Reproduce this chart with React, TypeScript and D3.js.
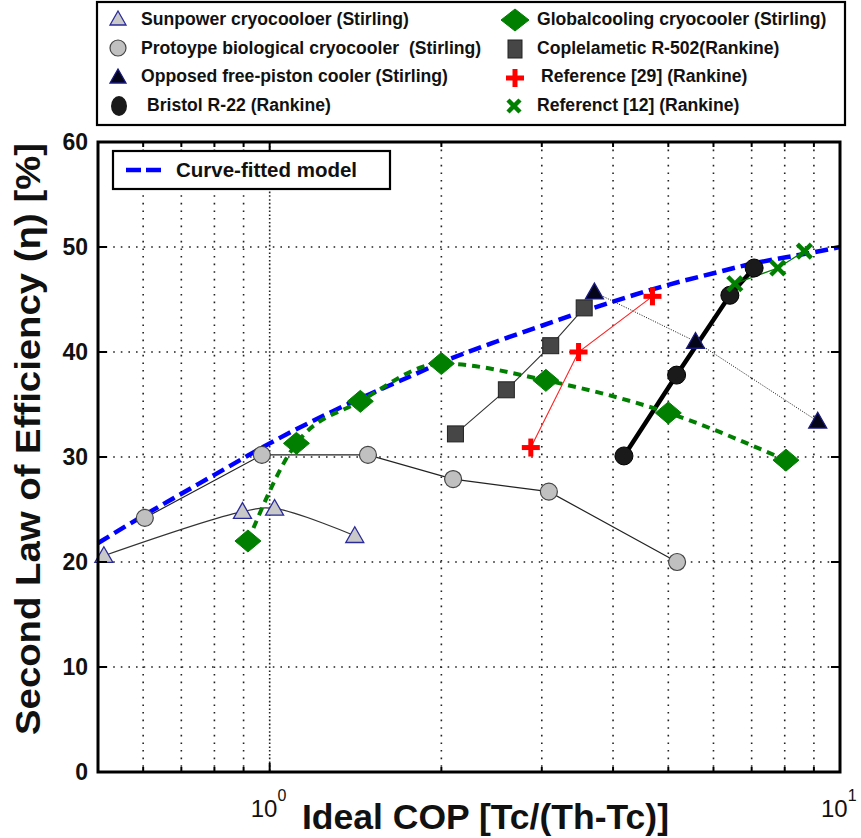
import React from "react";
import * as d3 from "d3";

// ---- Data ----
const sunpowerX = [0.512, 0.896, 1.02, 1.41];
const sunpowerY = [20.6, 24.8, 25.1, 22.5];

const protoX = [0.604, 0.969, 1.487, 2.097, 3.087, 5.18];
const protoY = [24.2, 30.2, 30.2, 27.9, 26.7, 20.0];

const opposedX = [3.71, 5.58, 9.14];
const opposedY = [45.7, 41.0, 33.4];

const bristolX = [4.18, 5.17, 6.41, 7.07];
const bristolY = [30.1, 37.8, 45.4, 48.0];

const globalX = [0.916, 1.114, 1.442, 2.0, 3.05, 5.0, 8.04];
const globalY = [22.0, 31.3, 35.3, 38.9, 37.3, 34.2, 29.7];

const coplX = [2.117, 2.6, 3.11, 3.56];
const coplY = [32.2, 36.4, 40.6, 44.2];

const ref29X = [2.87, 3.48, 4.69];
const ref29Y = [30.9, 40.0, 45.3];

const ref12X = [6.54, 7.78, 8.66];
const ref12Y = [46.5, 48.0, 49.6];

const modelX = [0.5, 0.6, 0.7, 0.8, 0.9, 1.0, 1.25, 1.5, 1.75, 2.0, 2.5, 3.0, 4.0, 5.0, 6.0, 7.0, 8.0, 9.0, 10.0];
const modelY = [21.8, 24.4, 26.5, 28.3, 29.9, 31.3, 34.0, 36.0, 37.6, 39.0, 41.0, 42.5, 44.8, 46.4, 47.5, 48.4, 49.0, 49.5, 50.0];

const yTicks = [0, 10, 20, 30, 40, 50, 60];
const xMinor = [0.6, 0.7, 0.8, 0.9, 2, 3, 4, 5, 6, 7, 8, 9];
const xMajor = [1, 10];

const legendLeft = [
  "Sunpower cryocooloer (Stirling)",
  "Protoype biological cryocooler \u00a0(Stirling)",
  "Opposed free-piston cooler (Stirling)",
  "Bristol R-22 (Rankine)",
];
const legendRight = [
  "Globalcooling cryocooler (Stirling)",
  "Coplelametic R-502(Rankine)",
  "Reference [29] (Rankine)",
  "Referenct [12] (Rankine)",
];

const W = 861;
const H = 838;
const L = 98, R = 840, T = 142, B = 772;

const GREEN = "#007f00";
const FONT = "'Liberation Sans', Arial, Helvetica, sans-serif";

const zip = (xs: number[], ys: number[]) => xs.map((x, i) => [x, ys[i]] as [number, number]);

function Tri({ cx, cy, fill, stroke, s = 9 }: any) {
  const h = s * 1.0;
  return (
    <path
      d={`M${cx},${cy - h} L${cx + s},${cy + h * 0.75} L${cx - s},${cy + h * 0.75} Z`}
      fill={fill}
      stroke={stroke}
      strokeWidth={1.3}
    />
  );
}
function Diamond({ cx, cy, w = 13, h = 11 }: any) {
  return <path d={`M${cx},${cy - h} L${cx + w},${cy} L${cx},${cy + h} L${cx - w},${cy} Z`} fill={GREEN} stroke={GREEN} strokeWidth={1} />;
}
function Square({ cx, cy, s = 8 }: any) {
  return <rect x={cx - s} y={cy - s} width={2 * s} height={2 * s} fill="#464646" stroke="#222" strokeWidth={1} />;
}
function Plus({ cx, cy, s = 9 }: any) {
  return (
    <g stroke="#ff0000" strokeWidth={5}>
      <line x1={cx - s} y1={cy} x2={cx + s} y2={cy} />
      <line x1={cx} y1={cy - s} x2={cx} y2={cy + s} />
    </g>
  );
}
function Cross({ cx, cy, s = 7 }: any) {
  return (
    <g stroke={GREEN} strokeWidth={4.5}>
      <line x1={cx - s} y1={cy - s} x2={cx + s} y2={cy + s} />
      <line x1={cx - s} y1={cy + s} x2={cx + s} y2={cy - s} />
    </g>
  );
}

export default function App() {
  const x = d3.scaleLog().domain([0.5, 10]).range([L, R]);
  const y = d3.scaleLinear().domain([0, 60]).range([B, T]);

  const lineLin = d3.line<[number, number]>().x((d) => x(d[0])).y((d) => y(d[1]));
  const lineSmooth = d3
    .line<[number, number]>()
    .x((d) => x(d[0]))
    .y((d) => y(d[1]))
    .curve(d3.curveMonotoneX);
  const lineCR = d3
    .line<[number, number]>()
    .x((d) => x(d[0]))
    .y((d) => y(d[1]))
    .curve(d3.curveCatmullRom.alpha(0.5));

  const gridY = yTicks.filter((v) => v > 0 && v < 60);

  return (
    <svg
      width={W}
      height={H}
      style={{ position: "absolute", left: 0, top: 0, background: "#fff" }}
      fontFamily={FONT}
    >
      {/* grid */}
      <g stroke="#222" strokeWidth={1.6} strokeDasharray="1.6,6" fill="none">
        {gridY.map((v) => (
          <line key={"gy" + v} x1={L} x2={R} y1={y(v)} y2={y(v)} />
        ))}
        {xMinor.map((v) => (
          <line key={"gx" + v} x1={x(v)} x2={x(v)} y1={T} y2={B} />
        ))}
        <line x1={x(1)} x2={x(1)} y1={T} y2={B} />
        <line x1={x(1)} x2={x(1)} y1={T + 4} y2={B} />
      </g>

      {/* curve-fitted model */}
      <path d={lineSmooth(zip(modelX, modelY)) || ""} fill="none" stroke="#0000ff" strokeWidth={4.5} strokeDasharray="13,6" />

      {/* series lines */}
      <path d={lineCR(zip(sunpowerX, sunpowerY)) || ""} fill="none" stroke="#333" strokeWidth={1.2} />
      <path d={lineLin(zip(protoX, protoY)) || ""} fill="none" stroke="#222" strokeWidth={1.2} />
      <path d={lineLin(zip(opposedX, opposedY)) || ""} fill="none" stroke="#111" strokeWidth={1} strokeDasharray="1,1.5" />
      <path d={lineLin(zip(bristolX, bristolY)) || ""} fill="none" stroke="#000" strokeWidth={4.5} />
      <path d={lineSmooth(zip(globalX, globalY)) || ""} fill="none" stroke={GREEN} strokeWidth={4} strokeDasharray="8,6" />
      <path d={lineLin(zip(coplX, coplY)) || ""} fill="none" stroke="#333" strokeWidth={1.1} />
      <path d={lineLin(zip(ref29X, ref29Y)) || ""} fill="none" stroke="#ff2020" strokeWidth={1.1} />
      <path d={lineLin(zip(ref12X, ref12Y)) || ""} fill="none" stroke={GREEN} strokeWidth={1.3} />

      {/* markers */}
      {zip(sunpowerX, sunpowerY).map((d, i) => (
        <Tri key={"sp" + i} cx={x(d[0])} cy={y(d[1])} fill="#c9c9c9" stroke="#2a2a9a" />
      ))}
      {zip(protoX, protoY).map((d, i) => (
        <circle key={"pr" + i} cx={x(d[0])} cy={y(d[1])} r={8.5} fill="#c0c0c0" stroke="#444" strokeWidth={1.2} />
      ))}
      {zip(opposedX, opposedY).map((d, i) => (
        <Tri key={"op" + i} cx={x(d[0])} cy={y(d[1])} fill="#05051a" stroke="#1a1a80" />
      ))}
      {zip(bristolX, bristolY).map((d, i) => (
        <circle key={"br" + i} cx={x(d[0])} cy={y(d[1])} r={9} fill="#1a1a1a" stroke="#000" strokeWidth={1} />
      ))}
      {zip(globalX, globalY).map((d, i) => (
        <Diamond key={"gl" + i} cx={x(d[0])} cy={y(d[1])} />
      ))}
      {zip(coplX, coplY).map((d, i) => (
        <Square key={"co" + i} cx={x(d[0])} cy={y(d[1])} />
      ))}
      {zip(ref29X, ref29Y).map((d, i) => (
        <Plus key={"r29" + i} cx={x(d[0])} cy={y(d[1])} />
      ))}
      {zip(ref12X, ref12Y).map((d, i) => (
        <Cross key={"r12" + i} cx={x(d[0])} cy={y(d[1])} />
      ))}

      {/* ticks */}
      <g stroke="#000" strokeWidth={2}>
        {yTicks.map((v) => (
          <g key={"yt" + v}>
            <line x1={L} x2={L + 9} y1={y(v)} y2={y(v)} />
            <line x1={R} x2={R - 9} y1={y(v)} y2={y(v)} />
          </g>
        ))}
        {xMinor.map((v) => (
          <g key={"xt" + v}>
            <line x1={x(v)} x2={x(v)} y1={B} y2={B - 5} />
            <line x1={x(v)} x2={x(v)} y1={T} y2={T + 5} />
          </g>
        ))}
        {xMajor.map((v) => (
          <g key={"xM" + v}>
            <line x1={x(v)} x2={x(v)} y1={B} y2={B - 9} />
            <line x1={x(v)} x2={x(v)} y1={T} y2={T + 9} />
          </g>
        ))}
      </g>

      {/* axes box */}
      <rect x={L} y={T} width={R - L} height={B - T} fill="none" stroke="#000" strokeWidth={3} />

      {/* y tick labels */}
      {yTicks.map((v) => (
        <text key={"yl" + v} x={88} y={y(v) + 8} textAnchor="end" fontSize={23} fontWeight="bold" fill="#111">
          {v}
        </text>
      ))}

      {/* x tick labels */}
      {xMajor.map((v, i) => (
        <text key={"xl" + v} x={x(v) - 19} y={817} fontSize={24} fill="#111">
          10
          <tspan fontSize={16} dy={-16}>
            {i}
          </tspan>
        </text>
      ))}

      {/* axis labels */}
      <text x={302} y={829} fontSize={35} fontWeight="bold" textLength={367} lengthAdjust="spacingAndGlyphs" fill="#111">
        Ideal COP [Tc/(Th-Tc)]
      </text>
      <text
        transform="translate(40,735) rotate(-90)"
        fontSize={35}
        fontWeight="bold"
        textLength={592}
        lengthAdjust="spacingAndGlyphs"
        fill="#111"
      >
        Second Law of Efficiency (η) [%]
      </text>

      {/* inner legend */}
      <rect x={113} y={151} width={277} height={38} fill="#fff" stroke="#000" strokeWidth={2.2} />
      <line x1={126} x2={164} y1={170} y2={170} stroke="#0000ff" strokeWidth={4.5} strokeDasharray="15,5" />
      <text x={176} y={177} fontSize={20} fontWeight="bold" textLength={181} lengthAdjust="spacingAndGlyphs" fill="#111">
        Curve-fitted model
      </text>

      {/* top legend */}
      <rect x={97} y={2} width={748} height={123} fill="#fff" stroke="#000" strokeWidth={2.2} />
      <Tri cx={118} cy={19} fill="#c9c9c9" stroke="#2a2a9a" s={8} />
      <circle cx={118} cy={48} r={8} fill="#c0c0c0" stroke="#444" strokeWidth={1.2} />
      <Tri cx={118} cy={77} fill="#05051a" stroke="#1a1a80" s={8} />
      <ellipse cx={119} cy={106} rx={8} ry={10} fill="#1a1a1a" />
      <Diamond cx={515} cy={20} w={14} h={11} />
      <rect x={508} y={40} width={14} height={18} fill="#464646" stroke="#222" strokeWidth={1} />
      <Plus cx={515} cy={78} s={9} />
      <Cross cx={514} cy={106} s={6} />
      {legendLeft.map((t, i) => (
        <text key={"ll" + i} x={i === 3 ? 147 : 141} y={[25, 54, 82, 111][i]} fontSize={17.6} fontWeight="bold" fill="#111">
          {t}
        </text>
      ))}
      {legendRight.map((t, i) => (
        <text key={"lr" + i} x={i === 2 ? 541 : 537} y={[25, 54, 82, 111][i]} fontSize={17.6} fontWeight="bold" fill="#111">
          {t}
        </text>
      ))}
    </svg>
  );
}
